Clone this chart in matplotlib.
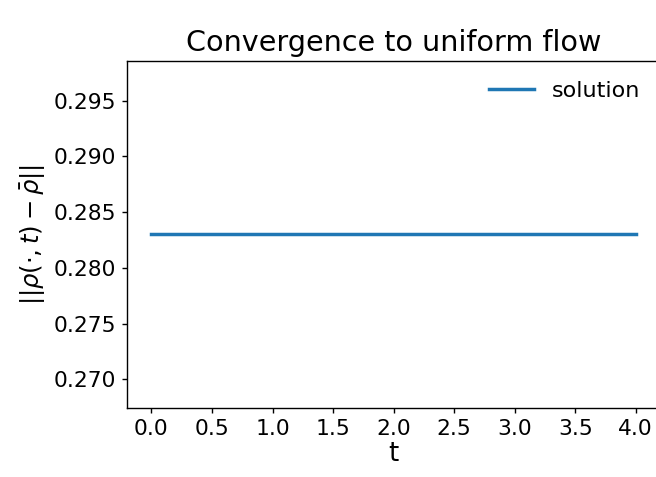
import numpy as np
import matplotlib
matplotlib.use("Agg")
import matplotlib.pyplot as plt

# time grid and norm of the deviation from the mean density
t = [0.0, 0.5, 1.0, 1.5, 2.0, 2.5, 3.0, 3.5, 4.0]
deviation = [0.283, 0.283, 0.283, 0.283, 0.283, 0.283, 0.283, 0.283, 0.283]

fig = plt.figure(figsize=(656 / 125, 477 / 125), dpi=125)
ax = fig.add_axes([0.194, 0.145, 0.812, 0.727])

ax.plot(t, deviation, label="solution", linewidth=2)
ax.set_xticks(np.arange(0, 4.01, 0.5))
ax.tick_params(labelsize=12.5, length=3)
ax.set_title("Convergence to uniform flow", fontsize=16.5)
ax.set_xlabel("t", fontsize=15, labelpad=1)
ax.set_ylabel(r"$||\rho(\cdot,t)-\bar{\rho}||$", fontsize=14)
ax.legend(loc="upper right", frameon=False, fontsize=12.8)

fig.savefig("out.png", dpi=125)
